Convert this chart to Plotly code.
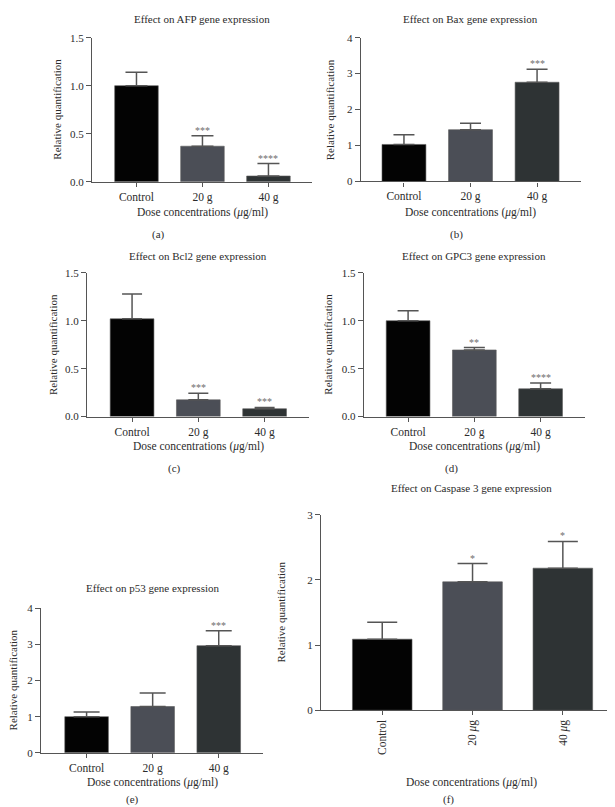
import plotly.graph_objects as go

W, H = 615, 807

categories = ["Control", "20 g", "40 g"]
categories_f = ["Control", "20 <i>μ</i>g", "40 <i>μ</i>g"]

afp_vals = [1.00, 0.37, 0.06]
afp_err = [0.14, 0.11, 0.13]
afp_sig = ["", "***", "****"]

bax_vals = [1.03, 1.44, 2.76]
bax_err = [0.27, 0.18, 0.36]
bax_sig = ["", "", "***"]

bcl2_vals = [1.02, 0.175, 0.082]
bcl2_err = [0.26, 0.068, 0.014]
bcl2_sig = ["", "***", "***"]

gpc3_vals = [1.00, 0.695, 0.29]
gpc3_err = [0.105, 0.025, 0.06]
gpc3_sig = ["", "**", "****"]

p53_vals = [1.00, 1.28, 2.96]
p53_err = [0.13, 0.37, 0.41]
p53_sig = ["", "", "***"]

casp3_vals = [1.09, 1.97, 2.18]
casp3_err = [0.26, 0.28, 0.41]
casp3_sig = ["", "*", "*"]

bar_colors = ["#030303", "#4b4e56", "#2e3334"]
FONT = "Liberation Serif"
TXT = "#2b2b2b"
AX = "#555555"

panels = [
    dict(title="Effect on AFP gene expression", vals=afp_vals, err=afp_err, sig=afp_sig, cats=categories,
         xpx=(84, 304), ypx=(24, 170.3), yr=1.5, dt=0.5, fmt=".1f", xr=(-0.674, 2.66), capw=11,
         ylx=49, letter="(a)", lx=150, ly=224, ty=5, xly=201),
    dict(title="Effect on Bax gene expression", vals=bax_vals, err=bax_err, sig=bax_sig, cats=categories,
         xpx=(352.7, 573), ypx=(24, 170), yr=4, dt=1, fmt="d", xr=(-0.65, 2.66), capw=10.5,
         ylx=321.7, letter="(b)", lx=448, ly=224, ty=5, xly=201),
    dict(title="Effect on Bcl2 gene expression", vals=bcl2_vals, err=bcl2_err, sig=bcl2_sig, cats=categories,
         xpx=(79, 301), ypx=(262.7, 408.7), yr=1.5, dt=0.5, fmt=".1f", xr=(-0.68, 2.67), capw=10,
         ylx=44.3, letter="(c)", lx=166, ly=461, ty=246, xly=439.3),
    dict(title="Effect on GPC3 gene expression", vals=gpc3_vals, err=gpc3_err, sig=gpc3_sig, cats=categories,
         xpx=(355.7, 577), ypx=(262.7, 408.7), yr=1.5, dt=0.5, fmt=".1f", xr=(-0.67, 2.67), capw=10.5,
         ylx=320, letter="(d)", lx=443, ly=461, ty=246, xly=439.3),
    dict(title="Effect on p53 gene expression", vals=p53_vals, err=p53_err, sig=p53_sig, cats=categories,
         xpx=(33, 255), ypx=(603, 750), yr=4, dt=1, fmt="d", xr=(-0.69, 2.67), capw=13,
         ylx=5, letter="(e)", lx=124, ly=797, ty=583, xly=780),
    dict(title="Effect on Caspase 3 gene expression", vals=casp3_vals, err=casp3_err, sig=casp3_sig, cats=categories_f,
         xpx=(313, 613), ypx=(508.3, 706.7), yr=3, dt=1, fmt="d", xr=(-0.678, 2.644), capw=15,
         ylx=273, letter="(f)", lx=440, ly=797, ty=480.7, xly=780),
]

fig = go.Figure()
annotations = []
layout_axes = {}

for i, p in enumerate(panels, start=1):
    xa = "x" if i == 1 else f"x{i}"
    ya = "y" if i == 1 else f"y{i}"
    xkey = "xaxis" if i == 1 else f"xaxis{i}"
    ykey = "yaxis" if i == 1 else f"yaxis{i}"
    xs = [0, 1, 2]
    fig.add_trace(go.Bar(
        x=xs, y=p["vals"], xaxis=xa, yaxis=ya, width=0.66,
        marker=dict(color=bar_colors, line=dict(color="#5a5a5a", width=0.6)),
        error_y=dict(type="data", array=p["err"], arrayminus=[0, 0, 0], symmetric=False,
                     color="#555555", thickness=1.5, width=p["capw"]),
        showlegend=False, hoverinfo="skip",
    ))
    x0, x1 = p["xpx"]
    yt, yb = p["ypx"]
    layout_axes[xkey] = dict(
        domain=[x0 / W, x1 / W], anchor=ya, range=list(p["xr"]),
        tickvals=xs, ticktext=p["cats"], showline=True, linecolor=AX, linewidth=1.2,
        ticks="outside", ticklen=4, tickcolor=AX, tickwidth=1.2, showgrid=False, zeroline=False,
        tickfont=dict(family=FONT, size=11.5, color=TXT),
        tickangle=-90 if i == 6 else 0, fixedrange=True,
    )
    layout_axes[ykey] = dict(
        domain=[1 - yb / H, 1 - yt / H], anchor=xa, range=[0, p["yr"]], dtick=p["dt"], tick0=0,
        tickformat=p["fmt"], showline=True, linecolor=AX, linewidth=1.2,
        ticks="outside", ticklen=5, tickcolor=AX, tickwidth=1.2, showgrid=False, zeroline=False,
        tickfont=dict(family=FONT, size=11, color=TXT), fixedrange=True,
    )
    cx = (x0 + x1) / 2 / W
    annotations.append(dict(text=p["title"], x=cx, y=1 - p["ty"] / H, xref="paper", yref="paper",
                            showarrow=False, xanchor="center", yanchor="middle",
                            font=dict(family=FONT, size=11, color=TXT)))
    annotations.append(dict(text="Dose concentrations (<i>μ</i>g/ml)", x=cx, y=1 - p["xly"] / H,
                            xref="paper", yref="paper", showarrow=False, xanchor="center", yanchor="middle",
                            font=dict(family=FONT, size=11.5, color=TXT)))
    annotations.append(dict(text="Relative quantification", x=p["ylx"] / W, y=1 - (yt + yb) / 2 / H,
                            xref="paper", yref="paper", showarrow=False, textangle=-90,
                            xanchor="center", yanchor="middle",
                            font=dict(family=FONT, size=11, color=TXT)))
    annotations.append(dict(text=p["letter"], x=p["lx"] / W, y=1 - p["ly"] / H, xref="paper", yref="paper",
                            showarrow=False, xanchor="center", yanchor="middle",
                            font=dict(family=FONT, size=11, color=TXT)))
    for j, s in enumerate(p["sig"]):
        if s:
            annotations.append(dict(text=s, x=j, y=p["vals"][j] + p["err"][j], xref=xa, yref=ya,
                                    showarrow=False, xanchor="center", yanchor="bottom", yshift=-2,
                                    font=dict(family=FONT, size=10, color="#6e6e6e")))

fig.update_layout(
    width=W, height=H, margin=dict(l=0, r=0, t=0, b=0),
    paper_bgcolor="white", plot_bgcolor="white",
    annotations=annotations, bargap=0.34, **layout_axes,
)

fig.write_html("out.html")
